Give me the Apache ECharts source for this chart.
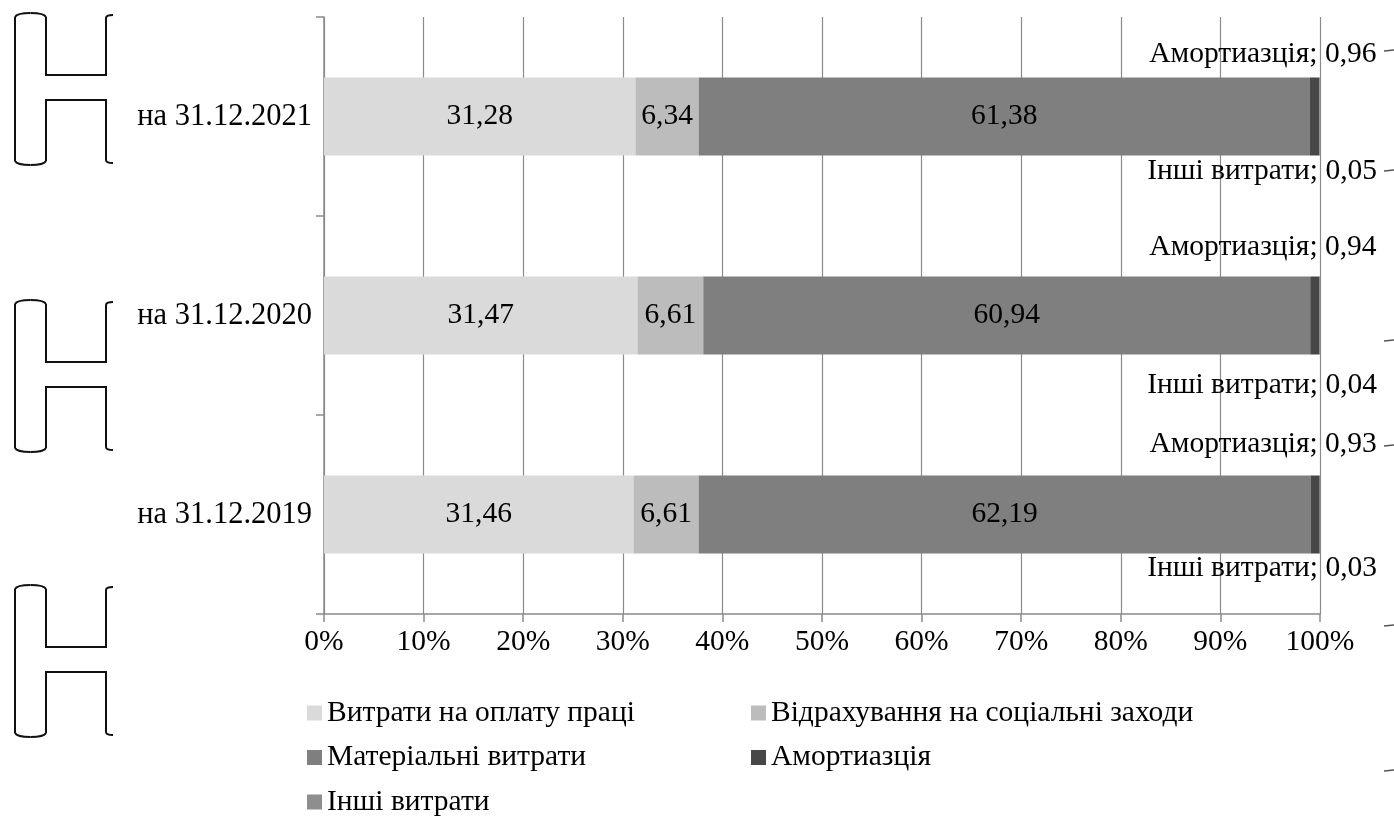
<!DOCTYPE html>
<html>
<head>
<meta charset="utf-8">
<title>Структура витрат</title>
<script src="https://cdn.jsdelivr.net/npm/echarts@6/dist/echarts.min.js"></script>
<style>
  html, body { margin: 0; padding: 0; background: #fff; }
  #chart { width: 1394px; height: 818px; }
</style>
</head>
<body>
<div id="chart"></div>
<script>
// Cost structure by date, %
const categories = ['на 31.12.2019', 'на 31.12.2020', 'на 31.12.2021'];
const labour = [31.46, 31.47, 31.28];
const social = [6.61, 6.61, 6.34];
const material = [62.19, 60.94, 61.38];
const depreciation = [0.93, 0.94, 0.96];
const other = [0.03, 0.04, 0.05];
const xTicks = [0, 10, 20, 30, 40, 50, 60, 70, 80, 90, 100];

const seriesNames = [
  'Витрати на оплату праці',
  'Відрахування на соціальні заходи',
  'Матеріальні витрати',
  'Амортиазція',
  'Інші витрати'
];
const seriesValues = [labour, social, material, depreciation, other];
const seriesColors = ['#dadada', '#bcbcbc', '#7f7f7f', '#474747', '#8e8e8e'];

// distance of the outside labels from the bar edge, per category
const depLabelGap = [31, 29, 23];    // above the bar
const otherLabelGap = [15, 31, 16];  // below the bar
const outsideLabelShift = 57;        // to the right of the bar end

const FONT = '"Liberation Serif", "Times New Roman", serif';
const FS = 29.5;

// 100% stacking: each bar is normalised by its category total
const totals = categories.map((_, i) => seriesValues.reduce((s, arr) => s + arr[i], 0));
const fmt = v => v.toFixed(2).replace('.', ',');

const series = seriesValues.map((vals, si) => {
  const data = vals.map((v, i) => ({ value: v / totals[i] * 100, raw: v }));
  const s = {
    name: seriesNames[si],
    type: 'bar',
    stack: 'total',
    barWidth: 78,
    itemStyle: { color: seriesColors[si] },
    emphasis: { disabled: true },
    data: data
  };
  if (si < 3) {
    s.label = {
      show: true, position: 'inside', color: '#000',
      fontFamily: FONT, fontSize: FS,
      formatter: p => fmt(p.data.raw)
    };
  } else {
    s.label = {
      show: true, position: 'right',
      color: '#000', fontFamily: FONT, fontSize: FS,
      formatter: p => seriesNames[si] + '; ' + fmt(p.data.raw)
    };
    s.labelLayout = params => {
      const r = params.rect;
      const y = si === 3
        ? r.y - depLabelGap[params.dataIndex]
        : r.y + r.height + otherLabelGap[params.dataIndex];
      return {
        x: r.x + r.width + outsideLabelShift,
        y: y,
        align: 'right',
        verticalAlign: 'middle',
        hideOverlap: false
      };
    };
  }
  return s;
});

// bracket ornaments drawn at the left edge
const strokeStyle = { fill: null, stroke: '#111', lineWidth: 2 };
function bracket(T) {
  const els = [];
  const poly = pts => els.push({ type: 'polyline', shape: { points: pts }, style: strokeStyle, silent: true });
  const curve = (x1, y1, cx, cy, x2, y2) => els.push({
    type: 'bezierCurve',
    shape: { x1: x1, y1: y1, cpx1: cx, cpy1: cy, x2: x2, y2: y2 },
    style: strokeStyle, silent: true
  });
  poly([[15, T + 2], [15, T + 146]]);
  curve(15, T + 2, 17, T - 2, 30.5, T - 2);
  curve(30.5, T - 2, 44, T - 2, 46, T + 2);
  poly([[46, T + 2], [46, T + 60], [106, T + 60], [106, T + 3]]);
  curve(106, T + 3, 106, T, 113, T);
  poly([[46, T + 146], [46, T + 85], [106, T + 85], [106, T + 145]]);
  curve(106, T + 145, 106, T + 148, 113, T + 148);
  curve(15, T + 146, 17, T + 150, 30.5, T + 150);
  curve(30.5, T + 150, 44, T + 150, 46, T + 146);
  return els;
}
const bracketTops = [15, 302, 587];
const dashYs = [50, 170, 340, 445, 625, 770];
let graphics = [];
bracketTops.forEach(T => { graphics = graphics.concat(bracket(T)); });
dashYs.forEach(y => graphics.push({
  type: 'line',
  shape: { x1: 1384, y1: y + 1, x2: 1394, y2: y },
  style: { stroke: '#555', lineWidth: 1.5 },
  silent: true
}));

const legendText = { color: '#000', fontFamily: FONT, fontSize: FS };

const chart = echarts.init(document.getElementById('chart'));
chart.setOption({
  animation: false,
  backgroundColor: '#fff',
  textStyle: { fontFamily: FONT },
  grid: { left: 324, right: 74, top: 17, bottom: 204, containLabel: false },
  xAxis: {
    type: 'value', min: xTicks[0], max: xTicks[xTicks.length - 1], interval: 10,
    axisLine: { show: true, lineStyle: { color: '#8a8a8a', width: 1.5 } },
    axisTick: { show: true, length: 8, lineStyle: { color: '#8a8a8a', width: 1.5 } },
    splitLine: { show: true, lineStyle: { color: '#8a8a8a', width: 1.2 } },
    axisLabel: {
      color: '#000', fontFamily: FONT, fontSize: FS, margin: 13,
      formatter: v => v + '%'
    }
  },
  yAxis: {
    type: 'category', data: categories,
    axisLine: { show: true, lineStyle: { color: '#8a8a8a', width: 1.5 } },
    axisTick: { show: true, length: 8, lineStyle: { color: '#8a8a8a', width: 1.5 } },
    axisLabel: { color: '#000', fontFamily: FONT, fontSize: 30.5, margin: 12 }
  },
  legend: [
    {
      orient: 'vertical', left: 307, top: 698, height: 200, padding: 0,
      itemWidth: 15, itemHeight: 15, itemGap: 14.5,
      icon: 'rect', textStyle: legendText,
      data: [seriesNames[0], seriesNames[2], seriesNames[4]],
      selectedMode: false
    },
    {
      orient: 'vertical', left: 751, top: 698, height: 200, padding: 0,
      itemWidth: 15, itemHeight: 15, itemGap: 14.5,
      icon: 'rect', textStyle: legendText,
      data: [seriesNames[1], seriesNames[3]],
      selectedMode: false
    }
  ],
  graphic: graphics,
  series: series
});
</script>
</body>
</html>
